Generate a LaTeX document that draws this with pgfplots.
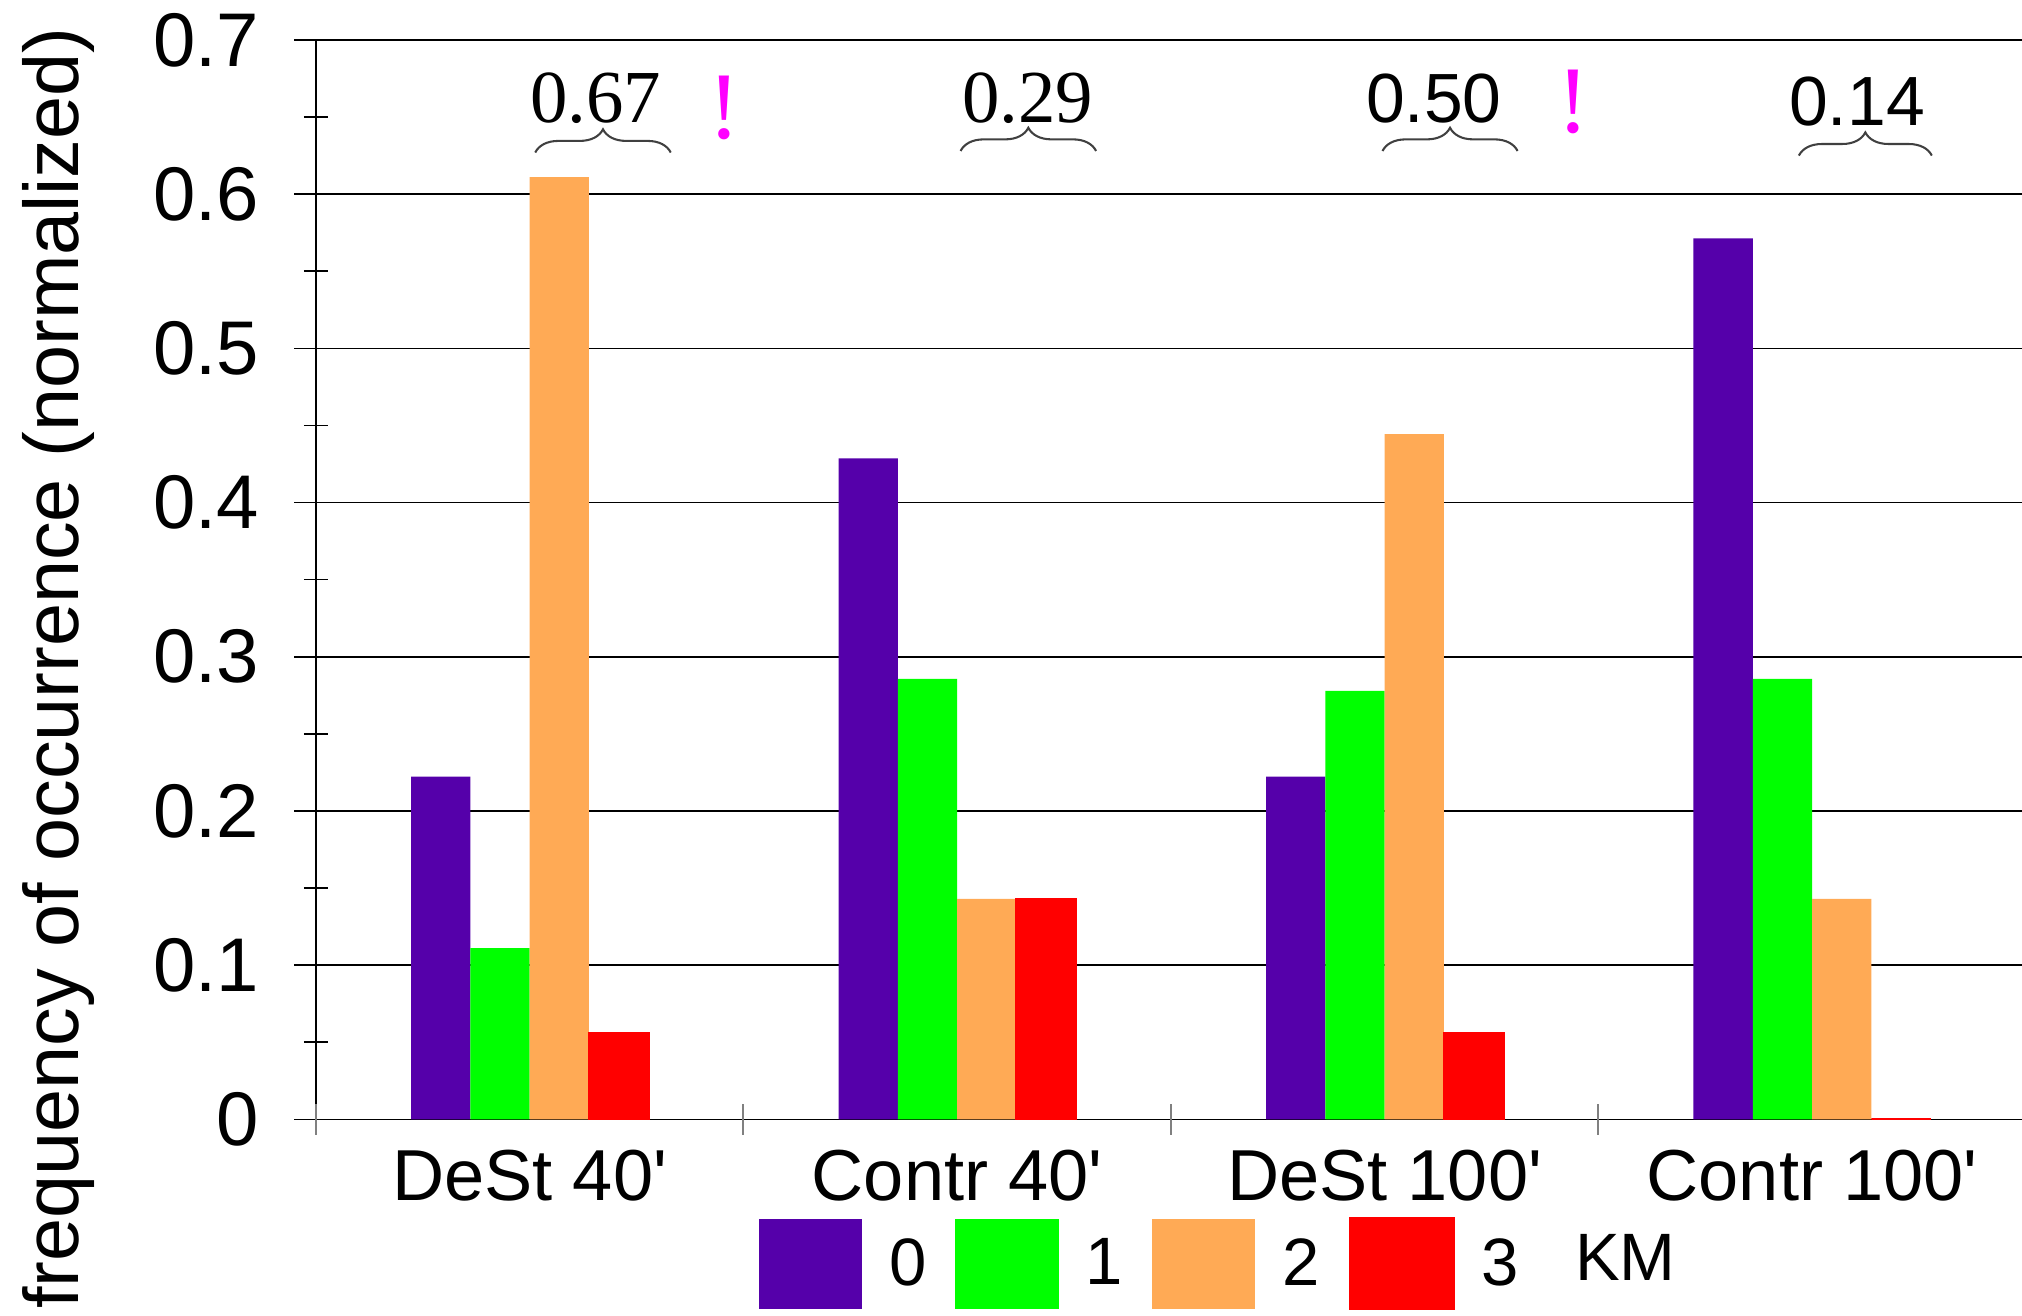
\documentclass[border=0pt]{standalone}
\usepackage{fontspec}
\setmainfont{Liberation Sans}[Ligatures=TeXOff]
\newfontfamily\seriffont{Liberation Serif}[Ligatures=TeXOff]
\usepackage{pgfplots}
\pgfplotsset{compat=1.18}
\usetikzlibrary{decorations.pathreplacing}
\definecolor{cpurple}{RGB}{85,0,170}
\definecolor{cgreen}{RGB}{0,255,0}
\definecolor{corange}{RGB}{255,170,85}
\definecolor{cred}{RGB}{255,0,0}
\definecolor{cmag}{RGB}{255,0,255}
\pgfplotsset{boxlegend/.style={legend image code/.code={\fill[##1] (0pt,-17.5pt) rectangle (40pt,17.5pt);}}}
\begin{document}
\begin{tikzpicture}
\path[use as bounding box] (-122.5pt,-76pt) rectangle (661.5pt,434pt);
\begin{axis}[
  scale only axis, width=663pt, height=418.5pt,
  anchor=south west, at={(0pt,0pt)},
  xmin=-0.5, xmax=3.5, ymin=0, ymax=0.7,
  ybar=0pt, bar width=23pt,
  axis x line*=bottom, axis y line*=left,
  axis line style={black, line width=0.6pt},
  ytick={0,0.1,0.2,0.3,0.4,0.5,0.6,0.7},
  minor y tick num=1,
  ymajorgrids, grid style={black, line width=0.6pt},
  tick align=center, major tick length=17pt, minor tick length=9.3pt,
  tick style={black, line width=0.6pt},
  xtick={0,1,2,3},
  xticklabels={DeSt 40',Contr 40',DeSt 100',Contr 100'},
  major x tick style={draw=none},
  extra x ticks={-0.5,0.5,1.5,2.5},
  extra x tick labels={},
  extra x tick style={major tick length=12pt, major x tick style={draw=gray, line width=0.8pt}},
  xticklabel style={font=\fontsize{28}{30}\selectfont},
  yticklabel style={font=\fontsize{29.5}{31}\selectfont, xshift=-10pt},
  /pgf/number format/assume math mode=true,
  ylabel={frequency of occurrence (normalized)},
  ylabel style={font=\fontsize{30}{32}\selectfont, at={(rel axis cs:-0.1508,0.418)}, anchor=center},
  legend columns=-1,
  legend style={at={(0.2587,-0.1338)}, anchor=west, draw=none, fill=none, inner sep=0pt,
    column sep=10.5pt, /tikz/every even column/.append style={column sep=11.3pt},
    font=\fontsize{26}{28}\selectfont, nodes={inner sep=0pt}},
]
\addplot[fill=cpurple, draw=none, boxlegend] coordinates {(0,0.2222) (1,0.4286) (2,0.2222) (3,0.5714)};
\addlegendentry{0}
\addplot[fill=cgreen, draw=none, boxlegend] coordinates {(0,0.1111) (1,0.2857) (2,0.2778) (3,0.2857)};
\addlegendentry{1}
\addplot[fill=corange, draw=none, boxlegend] coordinates {(0,0.6111) (1,0.1429) (2,0.4444) (3,0.1429)};
\addlegendentry{2}
\addplot[fill=cred, draw=cred, line width=1pt, boxlegend] coordinates {(0,0.0556) (1,0.1429) (2,0.0556) (3,0)};
\addlegendentry{3}
\addlegendimage{empty legend}
\addlegendentry{\raisebox{3pt}{KM}}

\draw[decorate, decoration={brace, amplitude=9pt}, line width=0.8pt, black!75] (axis cs:0.013,0.627) -- (axis cs:0.330,0.627);
\draw[decorate, decoration={brace, amplitude=9pt}, line width=0.8pt, black!75] (axis cs:1.008,0.628) -- (axis cs:1.325,0.628);
\draw[decorate, decoration={brace, amplitude=9pt}, line width=0.8pt, black!75] (axis cs:1.995,0.628) -- (axis cs:2.311,0.628);
\draw[decorate, decoration={brace, amplitude=9pt}, line width=0.8pt, black!75] (axis cs:2.969,0.625) -- (axis cs:3.280,0.625);
\node[font=\seriffont\fontsize{29}{30}\selectfont, anchor=base, inner sep=0pt] at (axis cs:0.155,0.6463) {0.67};
\node[font=\seriffont\fontsize{29}{30}\selectfont, anchor=base, inner sep=0pt] at (axis cs:1.165,0.6463) {0.29};
\node[font=\fontsize{27}{30}\selectfont, anchor=base, inner sep=0pt] at (axis cs:2.115,0.6463) {0.50};
\node[font=\fontsize{27}{30}\selectfont, anchor=base, inner sep=0pt] at (axis cs:3.105,0.6446) {0.14};
\node[font=\seriffont\fontsize{37}{38}\selectfont, anchor=base, inner sep=0pt, text=cmag] at (axis cs:0.456,0.636) {!};
\node[font=\seriffont\fontsize{37}{38}\selectfont, anchor=base, inner sep=0pt, text=cmag] at (axis cs:2.441,0.640) {!};
\end{axis}
\end{tikzpicture}
\end{document}
